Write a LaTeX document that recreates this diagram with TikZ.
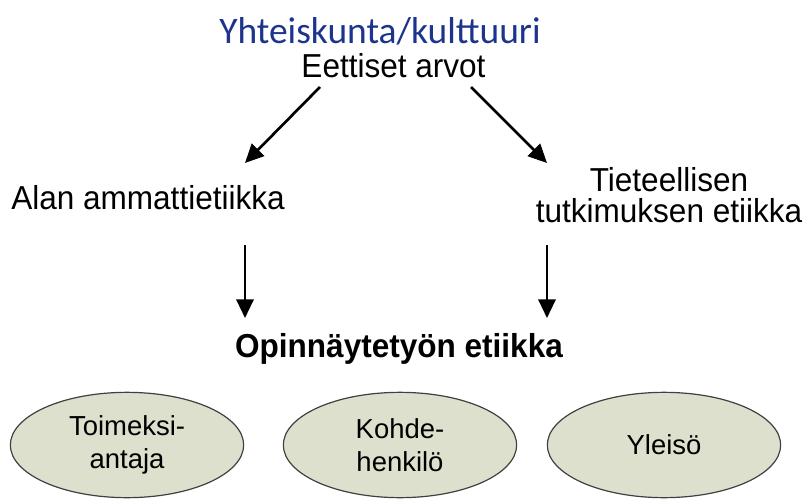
\documentclass[tikz,border=0pt]{standalone}
\usepackage{fontspec}
\setmainfont{Liberation Sans}
\newfontfamily\otsikkofont{Carlito}
\newfontfamily\kapeafont[FakeStretch=0.95]{Liberation Sans}
\usetikzlibrary{arrows.meta,shapes.geometric}
\definecolor{otsikkosininen}{RGB}{28,52,140}
\definecolor{soikiovihrea}{RGB}{221,224,205}

\begin{document}
\begin{tikzpicture}[x=0.75pt,y=-0.75pt,
	teksti/.style={font=\kapeafont\fontsize{24.9}{23.3}\selectfont, inner sep=0pt},
	soikio/.style={ellipse, draw=black!75, line width=0.9pt, fill=soikiovihrea,
	minimum width=175pt, minimum height=79pt, inner sep=0pt, align=center,
	font=\fontsize{20.6}{24.4}\selectfont},
	nuoli/.style={-{Triangle[length=14pt,width=13pt]}, line width=#1}]
\useasboundingbox (0,0) rectangle (808,500);
%Otsikko
\node [font=\otsikkofont\fontsize{28.1}{30}\selectfont, text=otsikkosininen,
	anchor=base, inner sep=0pt] (yhteiskunta) at (380,43) {Yhteiskunta/kulttuuri};
\node [teksti, anchor=base] (arvot) at (393.5,77) {Eettiset arvot};
%Etiikat
\node [teksti, anchor=base] (ammatti) at (148,209) {Alan ammattietiikka};
\node [teksti, align=center] (tiede) at (669,195) {Tieteellisen\\tutkimuksen etiikka};
\node [teksti, anchor=base] (opinnayte) at (399,357) {\bfseries Opinnäytetyön etiikka};
%Osapuolet
\node [soikio] (toimeksiantaja) at (127,445) {Toimeksi-\\antaja};
\node [soikio] (kohdehenkilo) at (400,445) {Kohde-\\henkilö};
\node [soikio] (yleiso) at (664,445) {Yleisö};
%Nuolten pisteet
\coordinate (vasen1) at (320,87);
\coordinate (vasen2) at (245,163);
\coordinate (oikea1) at (471,87);
\coordinate (oikea2) at (547,163);
\coordinate (vasen3) at (245,245);
\coordinate (vasen4) at (245,318);
\coordinate (oikea3) at (547,245);
\coordinate (oikea4) at (547,318);
%Nuolet
\draw [nuoli=2pt] (vasen1) -- (vasen2);
\draw [nuoli=2pt] (oikea1) -- (oikea2);
\draw [nuoli=1.6pt] (vasen3) -- (vasen4);
\draw [nuoli=1.6pt] (oikea3) -- (oikea4);
\end{tikzpicture}
\end{document}
